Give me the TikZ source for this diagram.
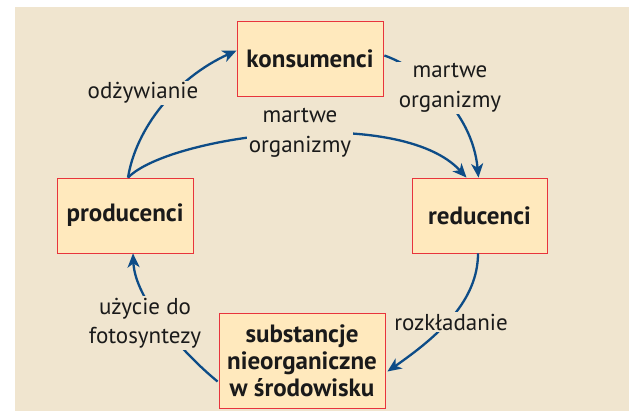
\documentclass[tikz,border=0pt]{standalone}
\usepackage{fontspec}
\setmainfont{PT Sans}
\usetikzlibrary{arrows.meta,calc}
\definecolor{bg}{HTML}{F0E5CF}
\definecolor{boxfill}{HTML}{FFE9BD}
\definecolor{boxred}{HTML}{E8343C}
\definecolor{arrowblue}{HTML}{0D4C87}
\definecolor{txt}{HTML}{1A1A1A}
\begin{document}
\begin{tikzpicture}[x=1pt,y=-1pt,
  box/.style={draw=boxred, line width=0.8pt, fill=boxfill, inner sep=0pt, align=center,
    text=txt, font=\bfseries\fontsize{25}{27}\selectfont},
  lbl/.style={fill=bg, inner sep=1.5pt, align=center, text=txt, font=\fontsize{23}{29.5}\selectfont},
  conn/.style={draw=arrowblue, line width=2.3pt, -{Stealth[length=14pt,width=12pt,inset=4pt]}}]
\useasboundingbox (0,0) rectangle (629,411);
\fill[bg] (15,7) rectangle (629,411);

\node[box, minimum width=146pt, minimum height=75pt] (kons) at (310,58.5) {konsumenci};
\node[box, minimum width=136pt, minimum height=75pt] (prod) at (125,215.5) {producenci};
\node[box, minimum width=135pt, minimum height=75pt] (red) at (479.5,215.5) {reducenci};
\node[box, minimum width=166pt, minimum height=95pt] (subst) at (302,360.5) {substancje\\nieorganiczne\\w środowisku};

\coordinate (p1) at ($(prod.north)+(3,0)$);
\coordinate (k1) at ($(kons.west)+(0,-8)$);
\coordinate (k2) at ($(kons.east)+(1,-3)$);
\coordinate (r1) at ($(red.north)+(-1,0)$);
\coordinate (r2) at ($(red.north)+(-13,0)$);
\coordinate (r3) at ($(red.south)+(-1.5,0)$);
\coordinate (s1) at ($(subst.east)+(2,11)$);
\coordinate (s2) at ($(subst.west)+(-1,21)$);
\coordinate (p2) at ($(prod.south)+(8,0)$);

\draw[conn] (p1) .. controls (136,128) and (176,78) .. (k1);
\draw[conn] (k2) .. controls (420,68) and (472,110) .. (r1);
\draw[conn] (p1) .. controls (170,135) and (400,105) .. (r2);
\draw[conn] (r3) .. controls (478,300) and (440,335) .. (s1);
\draw[conn] (s2) .. controls (185,355) and (135,300) .. (p2);

\node[lbl] (l1) at (143,93) {odżywianie};
\node[lbl] (l2) at (450,88) {martwe\\organizmy};
\node[lbl] (l3) at (300,133) {martwe\\organizmy};
\node[lbl] (l4) at (145,323) {użycie do\\fotosyntezy};
\node[lbl] (l5) at (451,322) {rozkładanie};
\end{tikzpicture}
\end{document}
